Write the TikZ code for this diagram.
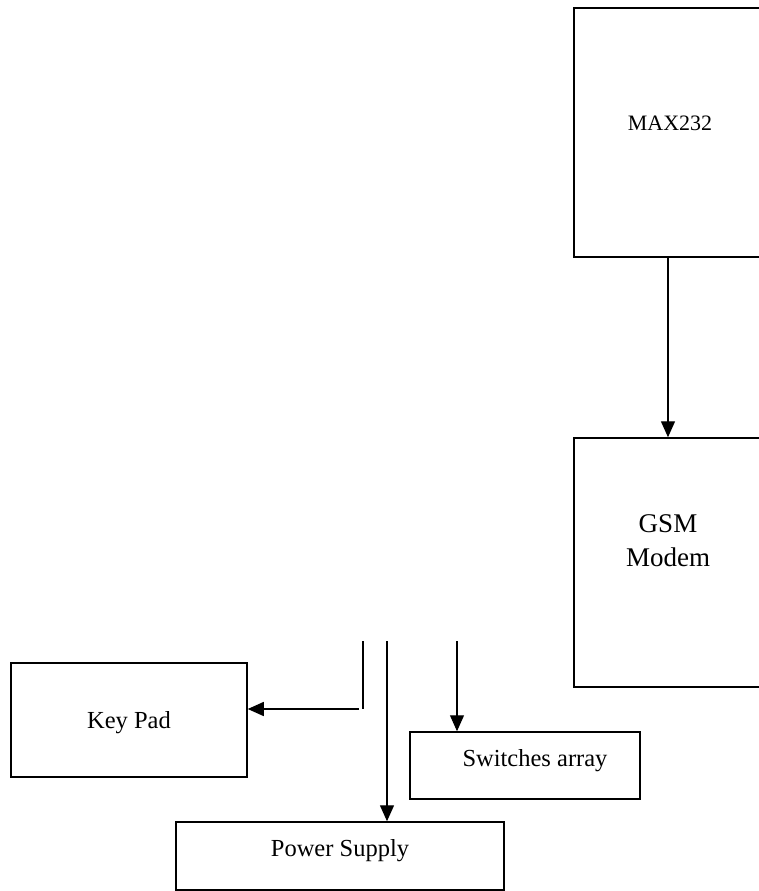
\documentclass[tikz,border=0pt]{standalone}
\usepackage{fontspec}
\setmainfont{Liberation Serif}
\usetikzlibrary{arrows.meta}
\tikzset{
  blockbox/.style={draw=black, line width=1.5pt, rectangle, inner sep=0pt},
  lbl/.style={inner sep=0pt, align=center, text=black},
  conn/.style={draw=black, line width=1.4pt},
  arr/.style={conn, -{Triangle[length=16pt,width=14pt]}},
}
\begin{document}
\begin{tikzpicture}[x=1pt,y=-1pt]
\useasboundingbox (0,0) rectangle (759,891);
\clip (0,0) rectangle (759,891);
% MAX232 (right side runs off the page)
\node[blockbox, minimum width=196pt, minimum height=249pt] (max) at (672,132.5) {};
\node[lbl, font=\fontsize{22}{26}\selectfont] (maxt) at (670,123) {MAX232};
% GSM Modem
\node[blockbox, minimum width=196pt, minimum height=249pt] (gsm) at (672,562.5) {};
\node[lbl, font=\fontsize{27}{34}\selectfont] (gsmt) at (668,541) {GSM\\Modem};
% Key Pad
\node[blockbox, minimum width=236pt, minimum height=114pt] (kp) at (129,720) {};
\node[lbl, font=\fontsize{24.5}{29}\selectfont] (kpt) at (129,723) {Key Pad};
% Switches array
\node[blockbox, minimum width=230pt, minimum height=67pt] (sw) at (525,765.5) {};
\node[lbl, font=\fontsize{24.5}{29}\selectfont] (swt) at (535,761) {Switches array};
% Power Supply
\node[blockbox, minimum width=328pt, minimum height=68pt] (ps) at (340,856) {};
\node[lbl, font=\fontsize{24.5}{29}\selectfont] (pst) at (340,851) {Power Supply};
% connectors
\coordinate (m1) at (668,257);
\draw[arr] (m1) -- (gsm.north -| m1);
\coordinate (k0) at (363,641);
\coordinate (k1) at (363,709);
\coordinate (k2) at (359,709);
\draw[conn] (k0) -- (k1);
\draw[arr] (k2) -- (kp.east |- k2);
\coordinate (p0) at (387,641);
\draw[arr] (p0) -- (ps.north -| p0);
\coordinate (s0) at (457,641);
\draw[arr, line width=1.1pt] (s0) -- (sw.north -| s0);
\end{tikzpicture}
\end{document}
